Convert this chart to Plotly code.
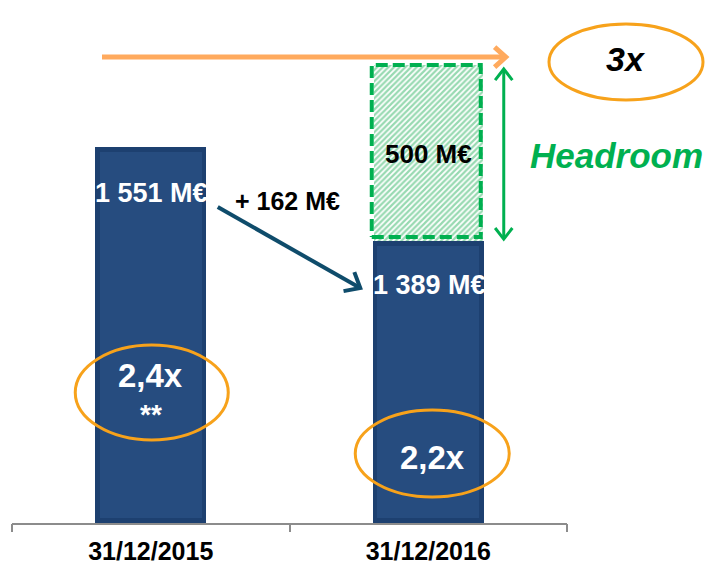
import math
import plotly.graph_objects as go

# ---------------- data ----------------
categories = ["31/12/2015", "31/12/2016"]
debt_values = [1551, 1389]                 # M€, as labelled
debt_labels = ["1 551 M€", "1 389 M€"]
drawn_heights = [1551, 1163]               # bar heights as drawn (schematic, in bar-1 M€ scale)
headroom_value = 500
headroom_label = "500 M€"
headroom_drawn = 726                       # drawn height of the headroom box
change_label = "+ 162 M€"
ratio_labels = ["2,4x", "2,2x"]
ratio_notes = ["**", ""]
target_label = "3x"
headroom_title = "Headroom"

# ---------------- geometry ----------------
PAGE_OFF = 8                      # default body margin of the html page
W, H = 713 - PAGE_OFF, 567 - PAGE_OFF
BASE_PY = 523                     # page y of the baseline
M_L, M_T = 12 - PAGE_OFF, 0
PW = 555
M_R = W - M_L - PW
PH = BASE_PY - PAGE_OFF - M_T
M_B = H - M_T - PH
ppy = 376 / 1551
X_RANGE = [-0.5, 1.5]
Y_RANGE = [0, PH / ppy]
ppx = PW / (X_RANGE[1] - X_RANGE[0])
BAR_W = 0.4


def dx(px):
    return px / ppx


def dy(px):
    return px / ppy


def yp(page_y):
    return (BASE_PY - page_y) / ppy


def to_paper_x(x):
    return (x - X_RANGE[0]) / (X_RANGE[1] - X_RANGE[0])


def to_paper_y(y):
    return (y - Y_RANGE[0]) / (Y_RANGE[1] - Y_RANGE[0])


FONT = "Arial, 'Liberation Sans', sans-serif"
NAVY_OUT = "#1D4070"
NAVY_IN = "#264C7F"
GREEN = "#00B050"
ORANGE_RING = "#F7A21B"
ORANGE_ARROW = "#FFAA5E"
TEAL = "#0F4C6B"


def line_trace(xs, ys, color, width, dash=None):
    return go.Scatter(x=xs, y=ys, mode="lines",
                      line=dict(color=color, width=width, dash=dash),
                      hoverinfo="skip", showlegend=False)


def chevron(xa, ya, xb, yb, color, width, head, ang):
    vx, vy = (xb - xa) * ppx, (yb - ya) * ppy
    L = math.hypot(vx, vy)
    ux, uy = vx / L, vy / L
    pts = []
    for s in (1, -1):
        a = math.radians(ang) * s
        rx = -(ux * math.cos(a) - uy * math.sin(a))
        ry = -(ux * math.sin(a) + uy * math.cos(a))
        pts.append((xb + rx * head / ppx, yb + ry * head / ppy))
    return line_trace([pts[0][0], xb, pts[1][0]], [pts[0][1], yb, pts[1][1]], color, width)


def arrow(x0, y0, x1, y1, color, width, head=14, ang=40, both=False):
    tr = [line_trace([x0, x1], [y0, y1], color, width), chevron(x0, y0, x1, y1, color, width, head, ang)]
    if both:
        tr.append(chevron(x1, y1, x0, y0, color, width, head, ang))
    return tr


fig = go.Figure()

# bars with a simple bevel (outer darker frame + inner face)
fig.add_trace(go.Bar(x=[0, 1], y=drawn_heights, width=BAR_W, marker=dict(color=NAVY_OUT, line=dict(width=0)),
                     hoverinfo="skip", showlegend=False))
inset = dy(5)
fig.add_trace(go.Bar(x=[0, 1], y=[h - 2 * inset for h in drawn_heights], base=[inset, inset],
                     width=BAR_W - dx(9), marker=dict(color=NAVY_IN, line=dict(width=0)),
                     hoverinfo="skip", showlegend=False))

# headroom box (hatched)
fig.add_trace(go.Bar(x=[1], y=[headroom_drawn], base=[drawn_heights[1]], width=BAR_W - dx(2),
                     marker=dict(color="white",
                                 pattern=dict(shape="/", fgcolor="#2FB463", bgcolor="white", size=4, solidity=0.55),
                                 line=dict(width=0)),
                     hoverinfo="skip", showlegend=False))
bx0, bx1 = 1 - BAR_W / 2 - dx(1), 1 + BAR_W / 2 - dx(3)
by0, by1 = drawn_heights[1] + dy(4), drawn_heights[1] + headroom_drawn
fig.add_trace(line_trace([bx0, bx1, bx1, bx0, bx0], [by0, by0, by1, by1, by0], GREEN, 4, dash="12px,5px"))

# arrows
top_level = drawn_heights[1] + headroom_drawn
for t in arrow(-0.5 + dx(90), top_level + dy(8), 1 + BAR_W / 2 + dx(22), top_level + dy(8),
               ORANGE_ARROW, 5, head=15, ang=42):
    fig.add_trace(t)
for t in arrow(1 + BAR_W / 2 + dx(20), drawn_heights[1] + dy(2), 1 + BAR_W / 2 + dx(20), top_level - dy(4),
               GREEN, 3, head=14, ang=38, both=True):
    fig.add_trace(t)
for t in arrow(0 + dx(67), drawn_heights[0] - dy(60), 1 - dx(68), drawn_heights[1] - dy(47),
               TEAL, 4, head=17, ang=40):
    fig.add_trace(t)

# dummy trace for boundary-tick axis
fig.add_trace(go.Scatter(x=[0], y=[0], xaxis="x2", mode="markers", marker=dict(opacity=0),
                         hoverinfo="skip", showlegend=False))

shapes = []
# ratio ellipses
ell = [(0 + dx(1), 392.5, 76.5, 47.5), (1 + dx(4), 453.5, 77, 43.5)]
for cx, cpy, rx, ry in ell:
    cy = yp(cpy)
    shapes.append(dict(type="circle", xref="x", yref="y", x0=cx - dx(rx), x1=cx + dx(rx),
                       y0=cy - dy(ry), y1=cy + dy(ry), line=dict(color=ORANGE_RING, width=3)))
# target ellipse (outside plot area -> paper refs)
tcx, tcy = 1.5 + dx(59), top_level + dy(3)
shapes.append(dict(type="circle", xref="paper", yref="paper",
                   x0=to_paper_x(tcx - dx(77)), x1=to_paper_x(tcx + dx(77)),
                   y0=to_paper_y(tcy - dy(38)), y1=to_paper_y(tcy + dy(38)),
                   line=dict(color=ORANGE_RING, width=3)))

ann = []


def text(x, y, s, size, color="black", italic=False):
    t = f"<b>{s}</b>"
    if italic:
        t = f"<i>{t}</i>"
    ann.append(dict(x=to_paper_x(x), y=to_paper_y(y), xref="paper", yref="paper", text=t, showarrow=False,
                    font=dict(family=FONT, size=size, color=color),
                    xanchor="center", yanchor="middle"))


for i, lab in enumerate(debt_labels):
    text(i + dx(1), drawn_heights[i] - dy(46 if i == 0 else 44), lab, 27, "white")
text(0, yp(375), ratio_labels[0], 33, "white")
text(0, yp(414), ratio_notes[0], 28, "white")
text(1 + dx(4), yp(457), ratio_labels[1], 33, "white")
text(1, drawn_heights[1] + headroom_drawn / 2 - dy(1), headroom_label, 26)
text(0.5 + dx(-2), drawn_heights[0] - dy(54), change_label, 25)
text(1.5 + dx(49), drawn_heights[1] + headroom_drawn / 2 + dy(-2), headroom_title, 35, GREEN, italic=True)
text(tcx, tcy + dy(3), target_label, 34, italic=True)

fig.update_layout(
    width=W, height=H,
    margin=dict(l=M_L, r=M_R, t=M_T, b=M_B, autoexpand=False),
    paper_bgcolor="white", plot_bgcolor="white",
    barmode="overlay", bargap=0,
    showlegend=False,
    font=dict(family=FONT),
    xaxis=dict(range=X_RANGE, tickmode="array", tickvals=[0, 1],
               ticktext=[f"<b>{c}</b>" for c in categories],
               tickfont=dict(family=FONT, size=25, color="black"),
               ticks="outside", ticklen=5, tickcolor="rgba(0,0,0,0)",
               showline=True, linecolor="#8C8C8C", linewidth=2,
               showgrid=False, zeroline=False, fixedrange=True),
    xaxis2=dict(range=X_RANGE, overlaying="x", anchor="y", side="bottom",
                tickmode="array", tickvals=[-0.5, 0.5, 1.5], ticktext=["", "", ""],
                ticks="outside", ticklen=8, tickwidth=2, tickcolor="#8C8C8C",
                showticklabels=False, showline=False, showgrid=False, zeroline=False, fixedrange=True),
    yaxis=dict(range=Y_RANGE, visible=False, fixedrange=True),
    shapes=shapes,
    annotations=ann,
)

fig.write_html("out.html")
